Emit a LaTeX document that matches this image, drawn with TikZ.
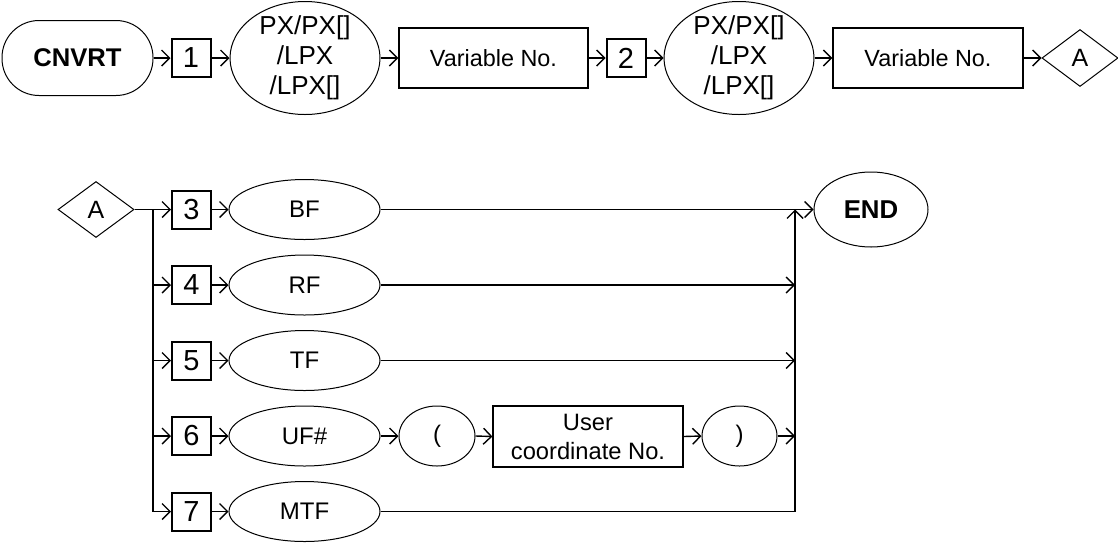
\documentclass[tikz,border=0pt]{standalone}
\usepackage{fontspec}
\setmainfont{Liberation Sans}
\usetikzlibrary{shapes.geometric,arrows.meta}
\begin{document}
\begin{tikzpicture}[x=0.5pt,y=-0.5pt,
  conn/.style={line width=0.7pt},
  arr/.style={conn,-{Straight Barb[length=4pt,width=8pt]}},
  numbox/.style={draw,line width=1pt,minimum width=19.5pt,minimum height=19pt,inner sep=0pt,font=\fontsize{14.5pt}{17pt}\selectfont},
  ell/.style={draw,ellipse,line width=0.5pt,inner sep=0pt,font=\fontsize{12pt}{14pt}\selectfont},
  bigell/.style={ell,minimum width=75pt,minimum height=56.5pt},
  opell/.style={ell,minimum width=75.5pt,minimum height=30pt},
  parell/.style={ell,minimum width=38pt,minimum height=30pt},
  bigtxt/.style={align=center,inner sep=0pt,font=\fontsize{13pt}{15pt}\selectfont},
  varbox/.style={draw,line width=0.6pt,minimum width=95pt,minimum height=30pt,inner sep=0pt,font=\fontsize{11.7pt}{14pt}\selectfont},
  term/.style={draw,line width=0.5pt,rounded corners=18.5pt,minimum width=75.5pt,minimum height=37.5pt,inner sep=0pt,font=\bfseries\fontsize{12.8pt}{15pt}\selectfont},
  dia/.style={draw,diamond,line width=0.5pt,minimum width=38pt,minimum height=28.5pt,inner sep=0pt,font=\fontsize{12.5pt}{15pt}\selectfont}
]
\fill[white] (0,0) rectangle (1118,542);
\useasboundingbox (0,0) rectangle (1118,542);

% top row
\node[term] (cnvrt) at (77.5,58) {CNVRT};
\node[numbox] (n1) at (191,58) {1};
\node[bigell,label={[bigtxt]center:PX/PX[]\\/LPX\\/LPX[]}] (e1) at (305,58) {};
\node[varbox,minimum width=94.5pt] (v1) at (493.5,58) {Variable No.};
\node[numbox] (n2) at (626,58) {2};
\node[bigell,label={[bigtxt]center:PX/PX[]\\/LPX\\/LPX[]}] (e2) at (739,58) {};
\node[varbox] (v2) at (928,58) {Variable No.};
\node[dia] (a1) at (1080,58) {A};

\draw[arr] (cnvrt.east) -- (n1.west);
\draw[arr] (n1.east) -- (e1.west);
\draw[arr] (e1.east) -- (v1.west);
\draw[arr] (v1.east) -- (n2.west);
\draw[arr] (n2.east) -- (e2.west);
\draw[arr] (e2.east) -- (v2.west);
\draw[arr] (v2.east) -- (a1.west);

% bottom block
\node[dia,minimum height=28pt] (a2) at (96,209.5) {A};
\node[numbox] (n3) at (191.5,209.5) {3};
\node[numbox] (n4) at (191.5,285) {4};
\node[numbox] (n5) at (191.5,360.5) {5};
\node[numbox] (n6) at (191.5,436) {6};
\node[numbox] (n7) at (191.5,511.5) {7};
\node[opell] (bf) at (304.5,209.5) {BF};
\node[opell] (rf) at (304.5,285) {RF};
\node[opell] (tf) at (304.5,360.5) {TF};
\node[opell] (uf) at (304.5,436) {UF\#};
\node[opell] (mtf) at (304.5,511.5) {MTF};
\node[parell] (lp) at (437,436) {(};
\node[varbox,align=center,minimum height=30.5pt,font=\fontsize{11.85pt}{14.5pt}\selectfont] (ucn) at (588,436.5) {User\\coordinate No.};
\node[parell,minimum width=37.5pt] (rp) at (739.5,436) {)};
\node[ell,minimum width=57pt,minimum height=37.5pt,font=\bfseries\fontsize{12.9pt}{15pt}\selectfont] (end) at (871,209.5) {END};

\coordinate (jl3) at (153,209.5);
\coordinate (jl4) at (153,285);
\coordinate (jl5) at (153,360.5);
\coordinate (jl6) at (153,436);
\coordinate (jr3) at (795,209.5);
\coordinate (jr4) at (795,285);
\coordinate (jr5) at (795,360.5);
\coordinate (jr6) at (795,436);

\draw[arr] (a2.east) -- (n3.west);
\draw[arr] (jl3) |- (n7.west);
\draw[arr] (jl4) -- (n4.west);
\draw[arr] (jl5) -- (n5.west);
\draw[arr] (jl6) -- (n6.west);

\draw[arr] (n3.east) -- (bf.west);
\draw[arr] (n4.east) -- (rf.west);
\draw[arr] (n5.east) -- (tf.west);
\draw[arr] (n6.east) -- (uf.west);
\draw[arr] (n7.east) -- (mtf.west);

\draw[arr] (bf.east) -- (end.west);
\draw[arr] (rf.east) -- (jr4);
\draw[arr] (tf.east) -- (jr5);
\draw[arr] (uf.east) -- (lp.west);
\draw[arr] (lp.east) -- (ucn.west);
\draw[arr] (ucn.east) -- (rp.west);
\draw[arr] (rp.east) -- (jr6);
\draw[arr] (mtf.east) -| (jr3);
\end{tikzpicture}
\end{document}
